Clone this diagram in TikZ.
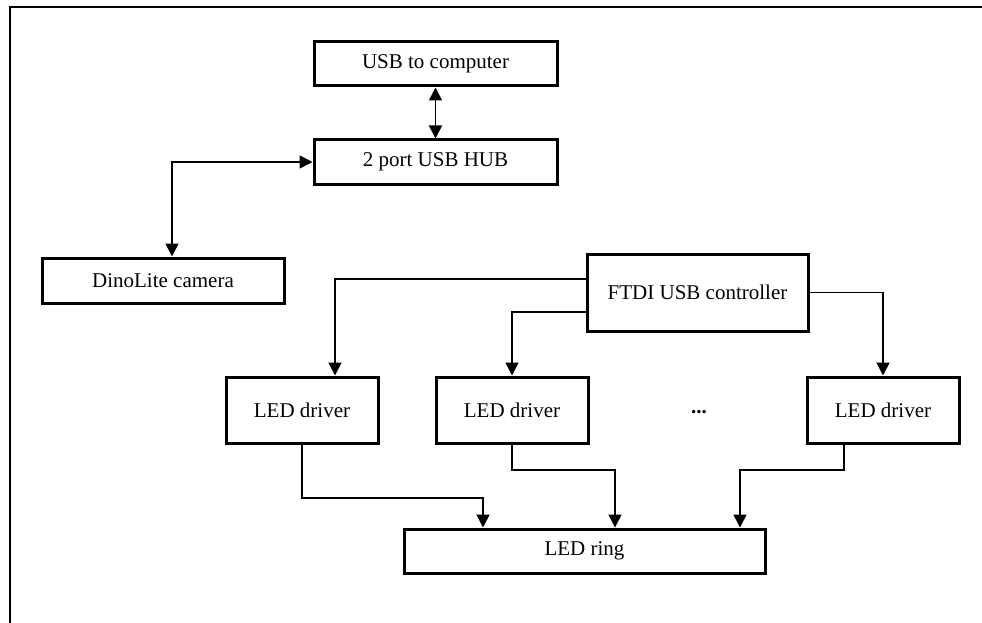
\documentclass[tikz,border=0pt]{standalone}
\usepackage{fontspec}
\setmainfont{Liberation Serif}
\usetikzlibrary{arrows.meta}
\begin{document}
\begin{tikzpicture}[x=1pt,y=-1pt,
  blk/.style={draw,line width=3pt,minimum height=44pt,inner sep=0pt,font=\fontsize{21}{25}\selectfont},
  drv/.style={blk,minimum width=152pt,minimum height=66pt},
  conn/.style={line width=1.6pt,-{Triangle[length=13pt,width=13pt]}},
  dconn/.style={line width=1.6pt,{Triangle[length=13pt,width=13pt]}-{Triangle[length=13pt,width=13pt]}}]
\useasboundingbox (0,0) rectangle (982,623);
\draw[line width=2pt] (982,7) -- (9.5,7) -- (9.5,623);
\node[blk,minimum width=243pt] (usb) at (435.5,64) {USB to computer};
\node[blk,minimum width=243pt] (hub) at (435.5,162) {2 port USB HUB};
\node[blk,minimum width=242pt,minimum height=45pt] (cam) at (163,280.5) {DinoLite camera};
\node[blk,minimum width=221pt,minimum height=77pt] (ftdi) at (697.5,292.5) {FTDI USB controller};
\node[drv] (d1) at (302,410) {LED driver};
\node[drv] (d2) at (512,410) {LED driver};
\node[drv] (d3) at (883,410) {LED driver};
\node[font=\fontsize{21}{25}\selectfont\bfseries,inner sep=0pt] (dots) at (699,412) {...};
\node[blk,minimum width=361pt] (ring) at (584.5,551) {LED ring};
\coordinate (j1) at (302,498);
\coordinate (j2) at (512,470);
\coordinate (j3) at (844,470);
\draw[dconn] (usb) -- (hub);
\draw[dconn] (hub.west) -| ([xshift=9pt]cam.north);
\draw[conn] ([yshift=13.5pt]ftdi.west) -| ([xshift=33pt]d1.north);
\draw[conn] ([yshift=-19.5pt]ftdi.west) -| (d2.north);
\draw[conn] (ftdi.east) -| (d3.north);
\draw[conn] (d1.south) -- (j1) -| ([xshift=-101.5pt]ring.north);
\draw[conn] (d2.south) -- (j2) -| ([xshift=30.5pt]ring.north);
\draw[conn] (j3 |- d3.south) -- (j3) -| ([xshift=155.5pt]ring.north);
\end{tikzpicture}
\end{document}
